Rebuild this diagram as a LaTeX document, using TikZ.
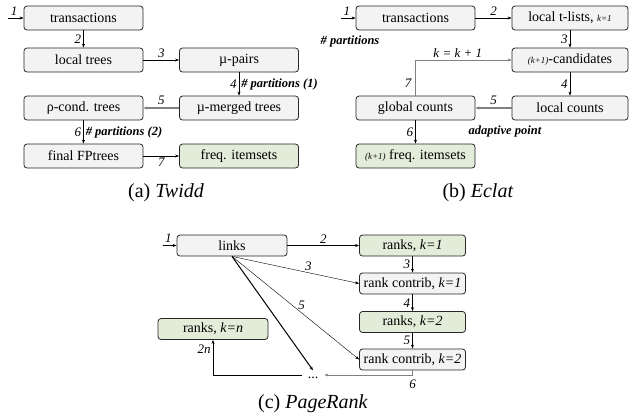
\documentclass[tikz,border=0pt]{standalone}
\usepackage{fontspec}
\setmainfont{LiberationSerif}[Extension=.ttf,UprightFont=*-Regular,
  ItalicFont=*-Italic,BoldFont=*-Bold,BoldItalicFont=*-BoldItalic]
\usetikzlibrary{arrows.meta}
\definecolor{boxgray}{HTML}{F3F3F3}
\definecolor{boxgreen}{HTML}{E2ECD9}
\definecolor{edgedark}{HTML}{262626}
\definecolor{flowgray}{HTML}{808080}
\newcommand{\smallit}[1]{{\fontsize{9}{10}\selectfont\itshape #1}}

\begin{document}
\begin{tikzpicture}[
  x=1pt,y=-1pt,
  box/.style={draw=edgedark,fill=boxgray,rounded corners=3pt,line width=0.8pt,
    minimum width=119pt,minimum height=24pt,inner sep=0pt,
    font=\rmfamily\fontsize{14}{16}\selectfont},
  wbox/.style={box,minimum width=110pt,minimum height=21pt},
  nbox/.style={box,minimum width=106pt,minimum height=21pt},
  done/.style={fill=boxgreen},
  flow/.style={line width=0.6pt,-{Stealth[length=4pt,width=3pt]}},
  heavy/.style={flow,line width=1.8pt,draw=flowgray},
  back/.style={flow,line width=0.5pt,draw=flowgray},
  num/.style={font=\rmfamily\fontsize{13}{14}\selectfont\itshape,inner sep=2pt},
  note/.style={font=\rmfamily\fontsize{12.5}{14}\selectfont\bfseries\itshape,inner sep=2pt},
  captext/.style={font=\rmfamily\fontsize{20}{22}\selectfont}
]

% ---- canvas ----
\useasboundingbox (0,0) rectangle (631,416);

% ---- (a) Twidd ----
\node[box] (twTrans)  at (83.5,18)  {transactions};
\node[box] (twLocal)  at (83.5,60)  {local trees};
\node[box] (twPairs)  at (239,60)   {µ-pairs};
\node[box] (twMerged) at (239,108)  {µ-merged trees};
\node[box] (twCond)   at (83.5,108) {ρ-cond. trees};
\node[box] (twFinal)  at (83.5,156) {final FPtrees};
\node[box,done] (twFreq) at (239,156) {freq. itemsets};
\coordinate (twIn) at (8,18);

\draw[flow] (twIn) -- (twTrans) node[num,pos=0.4,above] {1};
\draw[flow] (twTrans) -- (twLocal) node[num,midway,left] {2};
\draw[flow] (twLocal) -- (twPairs) node[num,midway,above] {3};
\draw[flow] (twPairs) -- (twMerged) node[num,midway,left] {4}
  node[note,midway,right] {\# partitions (1)};
\draw[heavy] (twMerged) -- (twCond) node[num,midway,above] {5};
\draw[flow] (twCond) -- (twFinal) node[num,midway,left] {6}
  node[note,midway,right] {\# partitions (2)};
\draw[flow] (twFinal) -- (twFreq) node[num,midway,below] {7};

\node[captext] (capA) at (166,193) {(a) \textit{Twidd}};

% ---- (b) Eclat ----
\node[box] (ecTrans)  at (415.5,18)  {transactions};
\node[box,minimum width=116pt] (ecTlists) at (570,18) {local t-lists, \smallit{k=1}};
\node[box,minimum width=116pt] (ecCand)   at (570,60) {\smallit{(k+1)}-candidates};
\node[box,minimum width=116pt] (ecCount)  at (570,108) {local counts};
\node[box] (ecGlobal) at (415.5,108) {global counts};
\node[box,done] (ecFreq) at (415.5,156) {\smallit{(k+1)} freq. itemsets};
\coordinate (ecIn) at (341,18);
\node[note] (ecPart)  at (350,41)  {\# partitions};
\node[note] (ecAdapt) at (505,131) {adaptive point};

\draw[flow] (ecIn) -- (ecTrans) node[num,pos=0.4,above] {1};
\draw[flow] (ecTrans) -- (ecTlists) node[num,midway,above] {2};
\draw[flow] (ecTlists) -- (ecCand) node[num,midway,left] {3};
\draw[flow] (ecCand) -- (ecCount) node[num,midway,left] {4};
\draw[heavy] (ecCount) -- (ecGlobal) node[num,midway,above] {5};
\draw[flow] (ecGlobal) -- (ecFreq) node[num,midway,left] {6};
\draw[back] (ecGlobal.north) |- (ecCand.west)
  node[num,pos=0.18,left,xshift=-2pt] {7}
  node[num,pos=0.72,above] {k = k + 1};

\node[captext] (capB) at (478,193) {(b) \textit{Eclat}};

% ---- (c) PageRank ----
\node[wbox] (prLinks) at (232,245.5) {links};
\node[nbox,done] (prR1) at (412.5,245.5) {ranks, \textit{k=1}};
\node[nbox] (prC1) at (412.5,283.5) {rank contrib, \textit{k=1}};
\node[nbox,done] (prR2) at (412.5,322) {ranks, \textit{k=2}};
\node[nbox] (prC2) at (412.5,359.5) {rank contrib, \textit{k=2}};
\node[wbox,done] (prRn) at (213,329) {ranks, \textit{k=n}};
\node[inner xsep=6pt,inner ysep=1pt,text height=7pt,text depth=0pt,
  font=\rmfamily\fontsize{14}{16}\selectfont] (dots) at (313,375) {...};
\coordinate (prIn) at (163,245.5);
\coordinate (prTurn) at (412.5,375);

\draw[flow,line width=1.2pt] (prIn) -- (prLinks) node[num,pos=0.4,above] {1};
\draw[flow] (prLinks) -- (prR1) node[num,midway,above] {2};
\draw[flow] (prR1) -- (prC1) node[num,midway,left] {3};
\draw[flow] (prC1) -- (prR2) node[num,midway,left] {4};
\draw[flow] (prR2) -- (prC2) node[num,midway,left] {5};
\draw[flow,line width=0.4pt] (prLinks.south) -- (prC1.west)
  node[num,pos=0.6,above] {3};
\draw[flow,line width=0.4pt] (prLinks.south) -- (prC2.west)
  node[num,pos=0.52,above right,inner sep=0pt] {5};
\draw[flow,line width=1pt] (prLinks.south) -- (dots.north);
\draw[back] (prC2.south) -- (prTurn) -- (dots.east)
  node[num,pos=0,below=3pt] {6};
\draw[flow] (dots.west) -| (prRn.south)
  node[num,pos=0.87,left] {2n};

\node[captext] (capC) at (313,404) {(c) \textit{PageRank}};

\end{tikzpicture}
\end{document}
